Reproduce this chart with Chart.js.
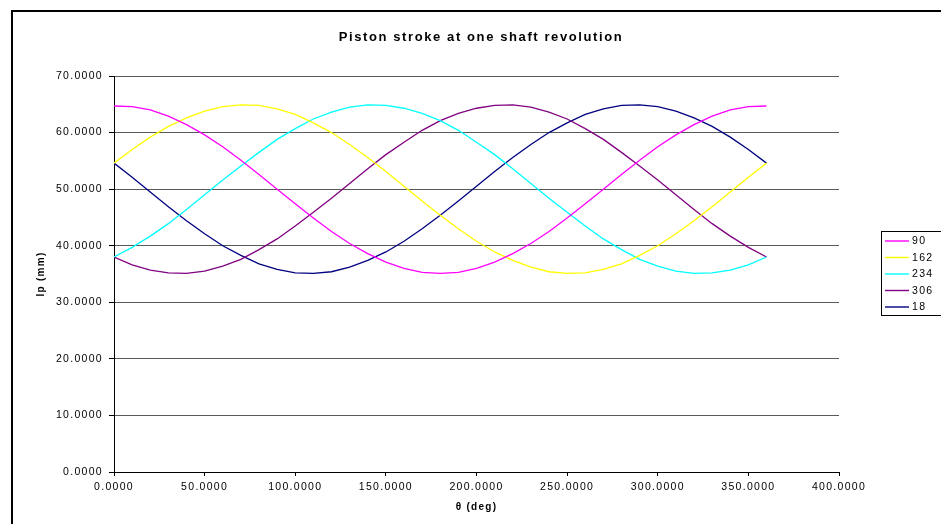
<!DOCTYPE html>
<html>
<head>
<meta charset="utf-8">
<title>Piston stroke at one shaft revolution</title>
<script src="https://cdn.jsdelivr.net/npm/chart.js@4.4.1/dist/chart.umd.min.js"></script>
<style>
  html, body { margin: 0; padding: 0; background: #fff; }
  #wrap { width: 941px; height: 524px; }
</style>
</head>
<body>
<div id="wrap"><canvas id="chartPistao" width="941" height="524"></canvas></div>
<script>
// ângulo do eixo (graus)
const theta = [0,10,20,30,40,50,60,70,80,90,100,110,120,130,140,150,160,170,180,
               190,200,210,220,230,240,250,260,270,280,290,300,310,320,330,340,350,360];

// curso do pistão lp (mm)
const lp90  = [64.7,64.6,64.0,62.9,61.4,59.6,57.5,55.1,52.6,50.0,47.4,44.9,42.5,40.4,38.6,37.1,36.0,35.3,35.1,
               35.3,36.0,37.1,38.6,40.4,42.5,44.9,47.4,50.0,52.6,55.1,57.5,59.6,61.4,62.9,64.0,64.6,64.7];
const lp162 = [54.6,57.0,59.2,61.1,62.6,63.8,64.6,64.9,64.8,64.2,63.2,61.7,60.0,57.9,55.6,53.1,50.5,47.9,45.4,
               43.0,40.8,38.9,37.4,36.2,35.4,35.1,35.2,35.8,36.8,38.3,40.0,42.1,44.4,46.9,49.5,52.1,54.6];
const lp234 = [38.0,39.7,41.7,43.9,46.4,49.0,51.6,54.1,56.5,58.8,60.7,62.4,63.6,64.5,64.9,64.8,64.3,63.4,62.1,
               60.4,58.3,56.1,53.6,51.0,48.4,45.9,43.5,41.2,39.3,37.6,36.4,35.5,35.1,35.2,35.7,36.6,38.0];
const lp306 = [38.0,36.6,35.7,35.2,35.1,35.5,36.4,37.6,39.3,41.2,43.5,45.9,48.4,51.0,53.6,56.1,58.3,60.4,62.1,
               63.4,64.3,64.8,64.9,64.5,63.6,62.4,60.7,58.8,56.5,54.1,51.6,49.0,46.4,43.9,41.7,39.7,38.0];
const lp18  = [54.6,52.1,49.5,46.9,44.4,42.1,40.0,38.3,36.8,35.8,35.2,35.1,35.4,36.2,37.4,38.9,40.8,43.0,45.4,
               47.9,50.5,53.1,55.6,57.9,60.0,61.7,63.2,64.2,64.8,64.9,64.6,63.8,62.6,61.1,59.2,57.0,54.6];

const nomesSeries = ['90', '162', '234', '306', '18'];
const coresSeries = ['#FF00FF', '#FFFF00', '#00FFFF', '#800080', '#000080'];
const valoresSeries = [lp90, lp162, lp234, lp306, lp18];

const FONTE = '"Liberation Sans", Arial, sans-serif';
const ESPACO = '1.3px';

const datasets = valoresSeries.map((serie, i) => ({
    label: nomesSeries[i],
    data: serie.map((v, k) => ({ x: theta[k], y: v })),
    borderColor: coresSeries[i],
    backgroundColor: coresSeries[i],
    borderWidth: 1.3,
    pointRadius: 0,
    tension: 0,
    fill: false
}));

// moldura, título e legenda no estilo do Excel
const moldura = {
    id: 'moldura',
    beforeLayout(chart) { chart.ctx.letterSpacing = ESPACO; },
    beforeDraw(chart) {
        const ctx = chart.ctx;
        ctx.letterSpacing = ESPACO;
        ctx.save();
        ctx.fillStyle = '#fff';
        ctx.fillRect(0, 0, chart.width, chart.height);
        ctx.restore();
    },
    afterDraw(chart) {
        const ctx = chart.ctx;
        ctx.save();
        // borda externa
        ctx.fillStyle = '#000';
        ctx.fillRect(11, 10, 2, chart.height - 10);
        ctx.fillRect(11, 10, chart.width - 11, 2);

        // título
        ctx.letterSpacing = '1.6px';
        ctx.font = 'bold 13px ' + FONTE;
        ctx.textAlign = 'center';
        ctx.textBaseline = 'middle';
        ctx.fillText('Piston stroke at one shaft revolution', 481, 37);

        // legenda
        ctx.strokeStyle = '#000';
        ctx.lineWidth = 1;
        ctx.strokeRect(881.5, 231.5, 80, 84);
        ctx.letterSpacing = ESPACO;
        ctx.font = '10.5px ' + FONTE;
        ctx.textAlign = 'left';
        chart.data.datasets.forEach((ds, i) => {
            const y = 241 + i * 16.5;
            ctx.strokeStyle = ds.borderColor;
            ctx.lineWidth = 1.4;
            ctx.beginPath();
            ctx.moveTo(885, y);
            ctx.lineTo(909, y);
            ctx.stroke();
            ctx.fillStyle = '#000';
            ctx.fillText(ds.label, 912, y + 0.5);
        });
        ctx.restore();
    }
};

new Chart(document.getElementById('chartPistao'), {
    type: 'line',
    data: { datasets: datasets },
    options: {
        responsive: false,
        animation: false,
        layout: { padding: { left: 0, top: 76, right: 102, bottom: 0 } },
        plugins: {
            legend: { display: false },
            title: { display: false },
            tooltip: { enabled: false }
        },
        scales: {
            x: {
                type: 'linear',
                min: 0,
                max: 400,
                afterFit(s) { s.height = 52; },
                ticks: {
                    stepSize: 50,
                    padding: 5,
                    color: '#000',
                    font: { family: FONTE, size: 10.5 },
                    callback: v => Number(v).toFixed(4),
                    maxRotation: 0
                },
                grid: { drawOnChartArea: false, drawTicks: true, tickLength: 4, tickColor: '#000' },
                border: { color: '#000', width: 1 },
                title: {
                    display: true,
                    text: 'θ (deg)',
                    color: '#000',
                    font: { family: FONTE, size: 10, weight: 'bold' },
                    padding: { top: 0, bottom: 11 }
                }
            },
            y: {
                min: 0,
                max: 70,
                afterFit(s) { s.width = 114; },
                ticks: {
                    stepSize: 10,
                    padding: 6,
                    color: '#000',
                    font: { family: FONTE, size: 10.5 },
                    callback: v => Number(v).toFixed(4)
                },
                grid: {
                    color: ctx => ctx.tick && ctx.tick.value === 0 ? '#000' : '#5a5a5a',
                    lineWidth: 1,
                    tickLength: 5,
                    tickColor: '#000'
                },
                border: { color: '#000', width: 1 },
                title: {
                    display: true,
                    text: 'lp (mm)',
                    color: '#000',
                    font: { family: FONTE, size: 10, weight: 'bold' },
                    padding: { top: 35, bottom: 0 }
                }
            }
        }
    },
    plugins: [moldura]
});
</script>
</body>
</html>
